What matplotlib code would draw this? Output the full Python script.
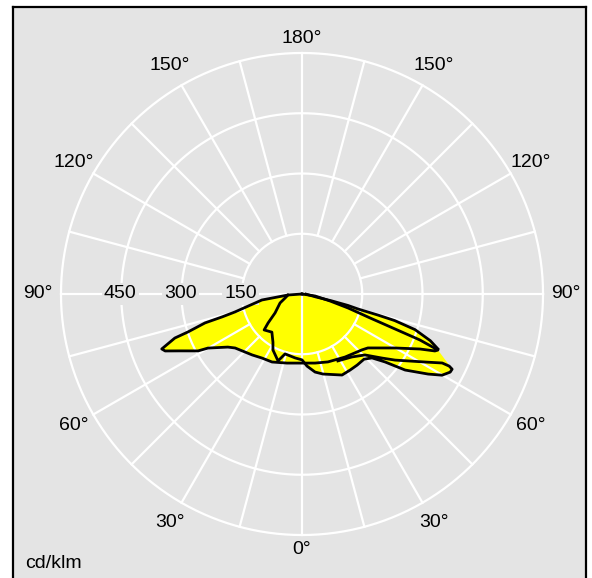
import numpy as np
import matplotlib.pyplot as plt

plt.rcParams['font.family'] = ['Liberation Sans', 'DejaVu Sans']

# grid rings (cd/klm) and the angle labels
rings = [150, 300, 450, 600]
ring_labels = ['150', '300', '450']
angle_ticks = [0, 30, 60, 90, 120, 150, 180]

# C0-C180 plane, negative angle = left half of the diagram
gamma_a = [-90, -85.9, -81.5, -75.0, -74.0, -73.4, -71.6, -70.9, -68.6, -67.4,
           -65.0, -61.3, -60.1, -54.4, -51.1, -39.3, -32.0, -23.8, -12.3, 0,
           10.7, 20.9, 34.3, 47.0, 50.7, 59.9, 65.0, 66.8, 67.6, 68.7, 69.4,
           70.6, 73.1, 76.0, 81.3, 90]
cd_a = [0, 35, 101, 173, 207, 252, 299, 335, 375, 369,
        335, 295, 270, 227, 214, 196, 188, 185, 176, 172,
        175, 181, 190, 204, 212, 268, 324, 360, 366, 315, 247,
        180, 120, 72, 33, 0]

# C90-C270 plane
gamma_b = [-85.9, -76.8, -67.8, -54.9, -49.5, -46.5, -38.3, -31.1, -27.4, -19.7,
           -15.8, -6.2, 0, 4.0, 9.5, 14.7, 26.3, 32.3, 37.8, 43.6, 47.6, 50.7,
           53.6, 57.6, 59.9, 62.2, 63.4, 63.9, 63.8, 61.6, 54.6, 51.3, 45.9,
           38.4, 28.2]
cd_b = [35, 43, 59, 82, 111, 130, 121, 140, 157, 177,
        155, 160, 164, 180, 197, 206, 225, 224, 224, 224, 236, 267,
        319, 372, 403, 417, 418, 408, 389, 357, 284, 255, 218,
        200, 189]

# plane of max intensity (upper edge of the right wing)
gamma_c = [88, 78, 77, 76, 75, 74.5, 74, 72.5, 70, 68]
cd_c = [10, 35, 75, 118, 145, 196, 240, 295, 340, 365]

bg = '#e4e4e4'
s = 0.4017  # px per cd/klm
cx, cy = 302, 294


def to_xy(g, i):
    g = np.radians(np.asarray(g, float))
    i = np.asarray(i, float)
    return i * np.sin(g), -i * np.cos(g)


fig = plt.figure(figsize=(5.92, 5.78), dpi=100)
ax = fig.add_axes([12.7 / 592, 0, (586 - 12.7) / 592, 1 - 6.5 / 578])
ax.set_facecolor(bg)
ax.set_xlim((12.7 - cx) / s, (586 - cx) / s)
ax.set_ylim(-(578 - cy) / s, (cy - 6.5) / s)
ax.set_xticks([])
ax.set_yticks([])
for side in ['left', 'top', 'right']:
    ax.spines[side].set_linewidth(1.6)
    ax.spines[side].set_color('black')
ax.spines['bottom'].set_visible(False)

# yellow fill
xa, ya = to_xy(gamma_a, cd_a)
xb, yb = to_xy(gamma_b, cd_b)
xc, yc = to_xy(gamma_c, cd_c)
tip_b = cd_b.index(max(cd_b))
tip_a = cd_a.index(366)
ax.fill(xa, ya, color='yellow', lw=0, zorder=1)
ax.fill(np.r_[0, xb[:tip_b + 1], xa[tip_a]], np.r_[0, yb[:tip_b + 1], ya[tip_a]],
        color='yellow', lw=0, zorder=1)
ax.fill(np.r_[0, xc], np.r_[0, yc], color='yellow', lw=0, zorder=1)

# grid
t = np.linspace(0, 2 * np.pi, 361)
for r in rings:
    ax.plot(r * np.cos(t), r * np.sin(t), color='white', lw=1.6, zorder=2)
for a in range(0, 360, 15):
    r0 = 0 if a % 90 == 0 else rings[0]
    ar = np.radians(a)
    ax.plot([r0 * np.sin(ar), rings[-1] * np.sin(ar)],
            [-r0 * np.cos(ar), -rings[-1] * np.cos(ar)],
            color='white', lw=1.6, zorder=2)

for r, lab in zip(rings, ring_labels):
    ax.text(-r - 3, 0, lab, fontsize=14, ha='center', va='center', zorder=3,
            bbox=dict(facecolor=bg, edgecolor='none', pad=1.5))

for a in angle_ticks:
    ar = np.radians(a)
    if a in (0, 180):
        R = 636
        ax.text(0, -R * np.cos(ar), f'{a}°', fontsize=14, ha='center', va='center')
    else:
        R = 657
        for sgn in (-1, 1):
            ax.text(sgn * R * np.sin(ar), -R * np.cos(ar), f'{a}°',
                    fontsize=14, ha='center', va='center')

# curves
ax.plot(xa, ya, color='black', lw=2.0, zorder=4)
ax.plot(xb, yb, color='black', lw=2.0, zorder=4)
ax.plot(xc, yc, color='black', lw=2.0, zorder=4)

ax.text(0.021, 0.026, 'cd/klm', transform=ax.transAxes, fontsize=14,
        ha='left', va='center')

fig.savefig('out.png', dpi=100)
